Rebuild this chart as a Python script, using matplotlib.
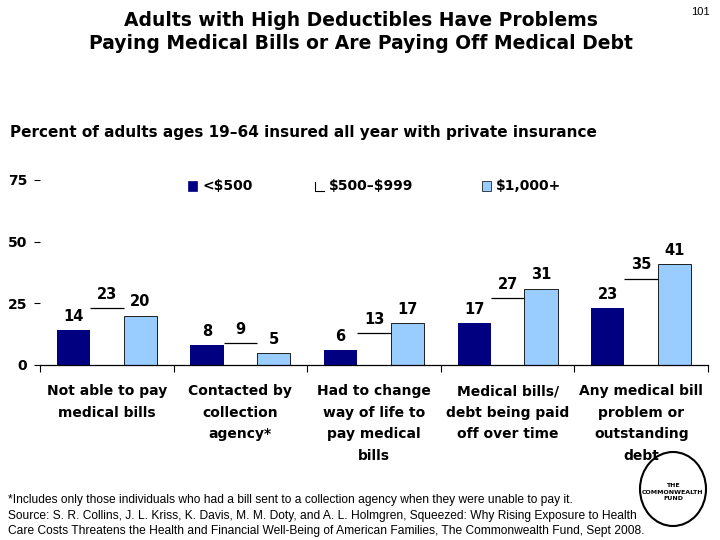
import matplotlib
matplotlib.use("Agg")
import matplotlib.pyplot as plt
from matplotlib.patches import Ellipse, Rectangle
from matplotlib.lines import Line2D
import numpy as np

categories = ["Not able to pay\nmedical bills",
              "Contacted by\ncollection\nagency*",
              "Had to change\nway of life to\npay medical\nbills",
              "Medical bills/\ndebt being paid\noff over time",
              "Any medical bill\nproblem or\noutstanding\ndebt"]
series_names = ["<\\$500", "\\$500\u2013\\$999", "\\$1,000+"]
low = [14, 8, 6, 17, 23]
mid = [23, 9, 13, 27, 35]
high = [20, 5, 17, 31, 41]
yticks = [0, 25, 50, 75]

navy = "#000080"
light = "#99CCFF"
bold_font = "DejaVu Sans"
reg_font = "Liberation Sans"

fig = plt.figure(figsize=(7.2, 5.4), dpi=100)
ax = fig.add_axes([40/720, 1-365/540, 668/720, 185/540])
ax.patch.set_visible(False)

x = np.arange(len(categories))
w = 0.25
b1 = ax.bar(x - w, low, w, color=navy, edgecolor="none", zorder=2)
b2 = ax.bar(x, mid, w, color="white", edgecolor="none", zorder=2)
ax.hlines(mid, x - w/2, x + w/2, colors="black", linewidth=0.9, zorder=3)
b3 = ax.bar(x + w, high, w, color=light, edgecolor="black", linewidth=0.6, zorder=2)

for bars, vals in [(b1, low), (b2, mid), (b3, high)]:
    for xi, v in zip(bars, vals):
        ax.text(xi.get_x() + xi.get_width()/2, v + 2.5, str(v), ha="center", va="bottom",
                fontsize=10.5, fontweight="bold", family=bold_font)

ax.set_xlim(-0.5, len(categories) - 0.5)
ax.set_ylim(0, 75)
ax.set_yticks(yticks)
ax.set_yticklabels([str(t) for t in yticks], fontsize=10, fontweight="bold", family=bold_font)
ax.tick_params(axis="y", direction="out", length=4, pad=5, width=0.8)
ax.set_xticks(np.arange(-0.5, len(categories), 1.0))
ax.set_xticklabels([])
ax.tick_params(axis="x", direction="out", length=5, width=0.8)
for s in ["top", "right", "left"]:
    ax.spines[s].set_visible(False)
ax.spines["bottom"].set_linewidth(0.9)

for xi, c in zip(x, categories):
    ax.text(xi, -7.8, c, ha="center", va="top", fontsize=10, fontweight="bold",
            family=bold_font, linespacing=1.68)

# legend
legend_x = [188, 315, 482]
legend_cols = [navy, "white", light]
for lx, name, col in zip(legend_x, series_names, legend_cols):
    yy = 1 - 186/540
    if col == "white":
        fig.add_artist(Line2D([lx/720, lx/720, (lx+9)/720], [yy+4.5/540, yy-4.5/540, yy-4.5/540],
                              color="black", linewidth=0.8))
    else:
        fig.add_artist(Rectangle((lx/720, yy-4.5/540), 9/720, 9/540, facecolor=col,
                                 edgecolor="black" if col == light else col, linewidth=0.5))
    fig.text((lx+14)/720, yy, name, ha="left", va="center", fontsize=10, fontweight="bold", family=bold_font)

fig.text(361/720, 1-32/540, "Adults with High Deductibles Have Problems\nPaying Medical Bills or Are Paying Off Medical Debt",
         ha="center", va="center", fontsize=13.5, fontweight="bold", family=bold_font, linespacing=1.3)
fig.text(700/720, 1-12/540, "101", ha="center", va="center", fontsize=8, family=reg_font)
fig.text(10/720, 1-133/540, "Percent of adults ages 19\u201364 insured all year with private insurance",
         ha="left", va="center", fontsize=11, fontweight="bold", family=bold_font)

foot = ["*Includes only those individuals who had a bill sent to a collection agency when they were unable to pay it.",
        "Source: S. R. Collins, J. L. Kriss, K. Davis, M. M. Doty, and A. L. Holmgren, Squeezed: Why Rising Exposure to Health",
        "Care Costs Threatens the Health and Financial Well-Being of American Families, The Commonwealth Fund, Sept 2008."]
for yy, line in zip([500, 516, 531], foot):
    fig.text(8/720, 1-yy/540, line, ha="left", va="center", fontsize=8.65, family=reg_font)

fig.add_artist(Ellipse((673/720, 1-489/540), 66/720, 74/540, facecolor="white", edgecolor="black",
                       linewidth=1.5, zorder=-1))
fig.text(673/720, 1-492/540, "THE\nCOMMONWEALTH\nFUND", ha="center", va="center", fontsize=4.5,
         fontweight="bold", family=bold_font, linespacing=1.4)

fig.savefig("out.png", dpi=100)
